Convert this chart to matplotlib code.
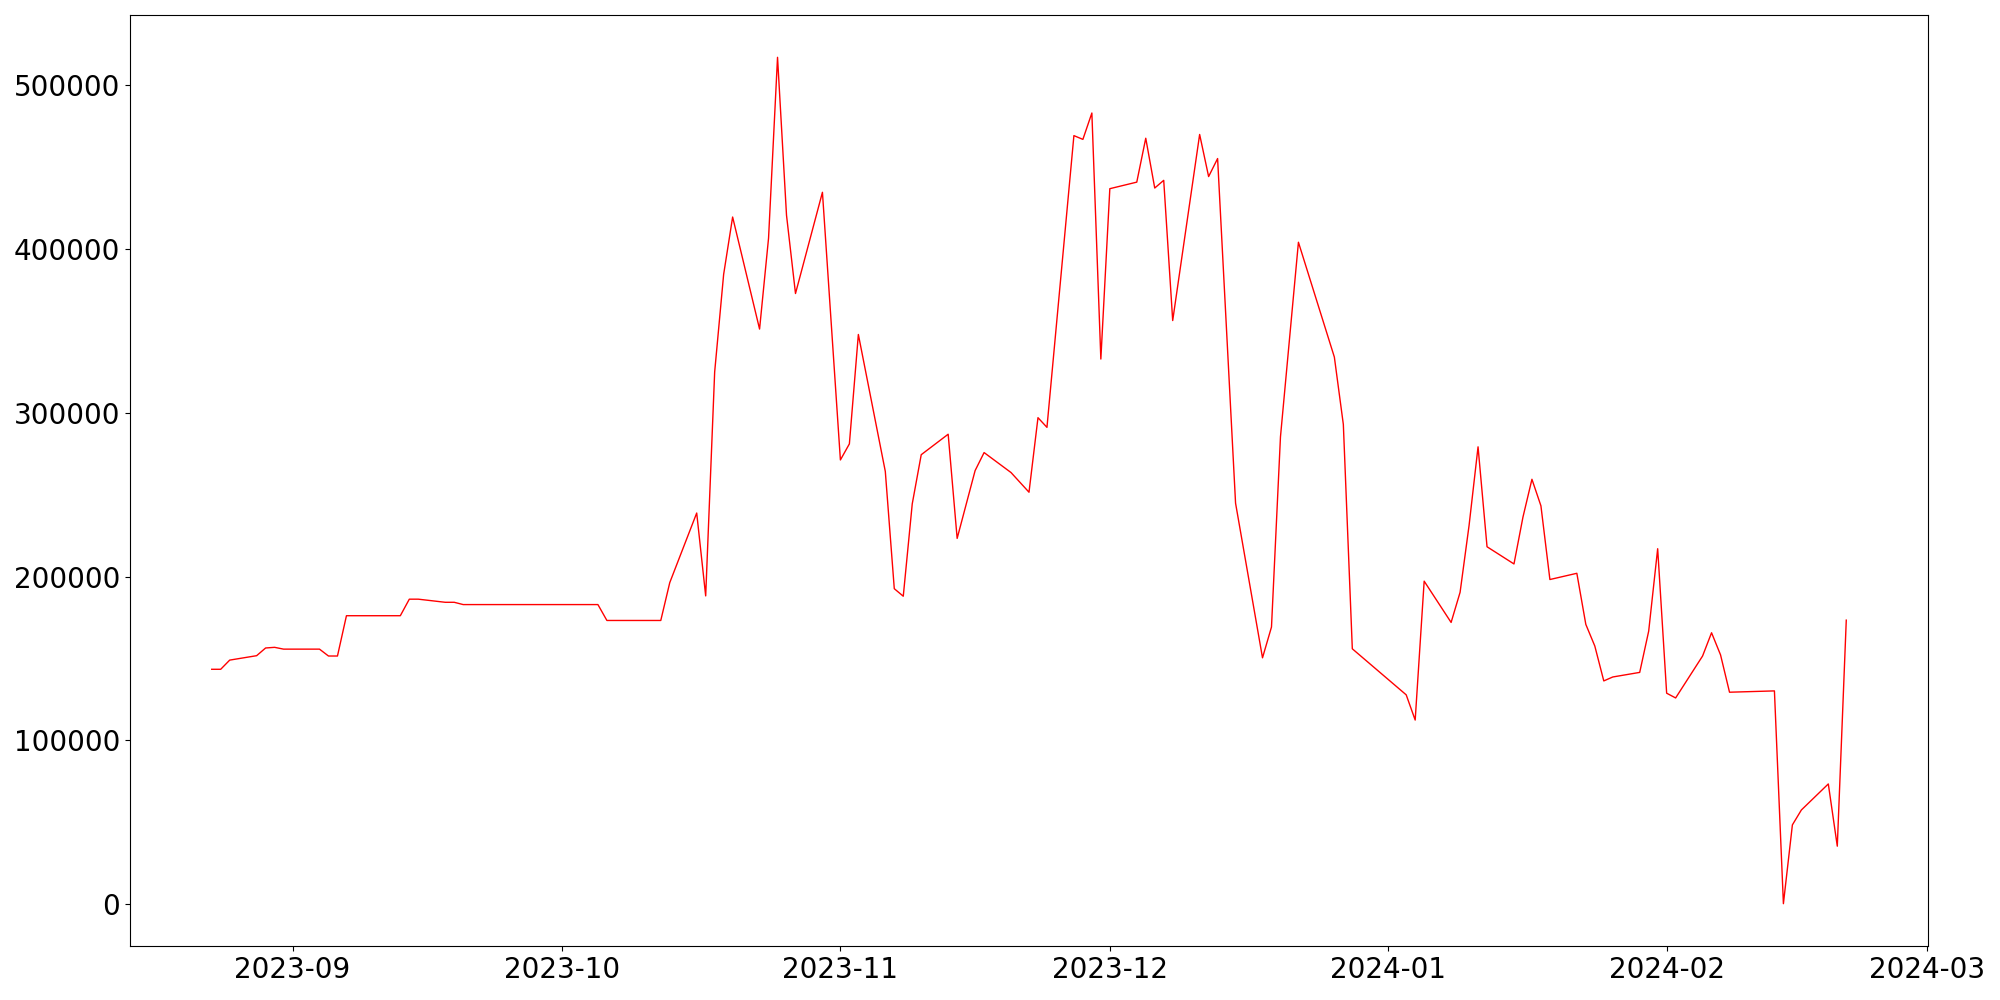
import numpy as np
import pandas as pd
import matplotlib
matplotlib.use('Agg')
import matplotlib.pyplot as plt
import matplotlib.dates as mdates

# values
dates = [
    '2023-08-23', '2023-08-24', '2023-08-25', '2023-08-28', '2023-08-29',
    '2023-08-30', '2023-08-31', '2023-09-04', '2023-09-05', '2023-09-06',
    '2023-09-07', '2023-09-13', '2023-09-14', '2023-09-15', '2023-09-18',
    '2023-09-19', '2023-09-20', '2023-10-05', '2023-10-06', '2023-10-12',
    '2023-10-13', '2023-10-16', '2023-10-17', '2023-10-18', '2023-10-19',
    '2023-10-20', '2023-10-23', '2023-10-24', '2023-10-25', '2023-10-26',
    '2023-10-27', '2023-10-30', '2023-11-01', '2023-11-02', '2023-11-03',
    '2023-11-06', '2023-11-07', '2023-11-08', '2023-11-09', '2023-11-10',
    '2023-11-13', '2023-11-14', '2023-11-16', '2023-11-17', '2023-11-20',
    '2023-11-22', '2023-11-23', '2023-11-24', '2023-11-27', '2023-11-28',
    '2023-11-29', '2023-11-30', '2023-12-01', '2023-12-04', '2023-12-05',
    '2023-12-06', '2023-12-07', '2023-12-08', '2023-12-11', '2023-12-12',
    '2023-12-13', '2023-12-15', '2023-12-18', '2023-12-19', '2023-12-20',
    '2023-12-22', '2023-12-26', '2023-12-27', '2023-12-28', '2024-01-03',
    '2024-01-04', '2024-01-05', '2024-01-08', '2024-01-09', '2024-01-10',
    '2024-01-11', '2024-01-12', '2024-01-15', '2024-01-16', '2024-01-17',
    '2024-01-18', '2024-01-19', '2024-01-22', '2024-01-23', '2024-01-24',
    '2024-01-25', '2024-01-26', '2024-01-29', '2024-01-30', '2024-01-31',
    '2024-02-01', '2024-02-02', '2024-02-05', '2024-02-06', '2024-02-07',
    '2024-02-08', '2024-02-13', '2024-02-14', '2024-02-15', '2024-02-16',
    '2024-02-19', '2024-02-20', '2024-02-21',
]
values = [
    143400, 143400, 149000, 151700, 156400,
    156800, 155700, 155700, 151500, 151500,
    176100, 176100, 186200, 186200, 184300,
    184300, 182900, 182900, 173200, 173200,
    196300, 238800, 188200, 324900, 384500,
    419500, 351100, 406600, 517000, 420600,
    372800, 434600, 271200, 281000, 347800,
    264200, 192600, 188000, 244400, 274400,
    286900, 223300, 264700, 275700, 263500,
    251500, 297000, 291100, 469200, 466900,
    483000, 332800, 436800, 440800, 467600,
    437200, 441900, 356300, 469900, 444200,
    455200, 244800, 150400, 169200, 285300,
    404100, 334000, 292900, 155900, 127800,
    112400, 197200, 172000, 190400, 231200,
    279200, 218200, 207700, 236300, 259400,
    243200, 198200, 202000, 170800, 157600,
    136300, 138700, 141500, 166700, 217000,
    128800, 125900, 151500, 165700, 152200,
    129400, 130200, 300, 48400, 57500,
    73400, 35400, 173400,
]

x = pd.to_datetime(dates)
y = np.array(values)

fig, ax = plt.subplots(figsize=(20, 10), dpi=100)
fig.subplots_adjust(left=0.065, right=0.964, top=0.985, bottom=0.054)

ax.plot(x, y, color='red', linewidth=1)

ax.xaxis.set_major_locator(mdates.MonthLocator())
ax.xaxis.set_major_formatter(mdates.DateFormatter('%Y-%m'))
ax.tick_params(axis='both', labelsize=20)

fig.savefig('out.png')
